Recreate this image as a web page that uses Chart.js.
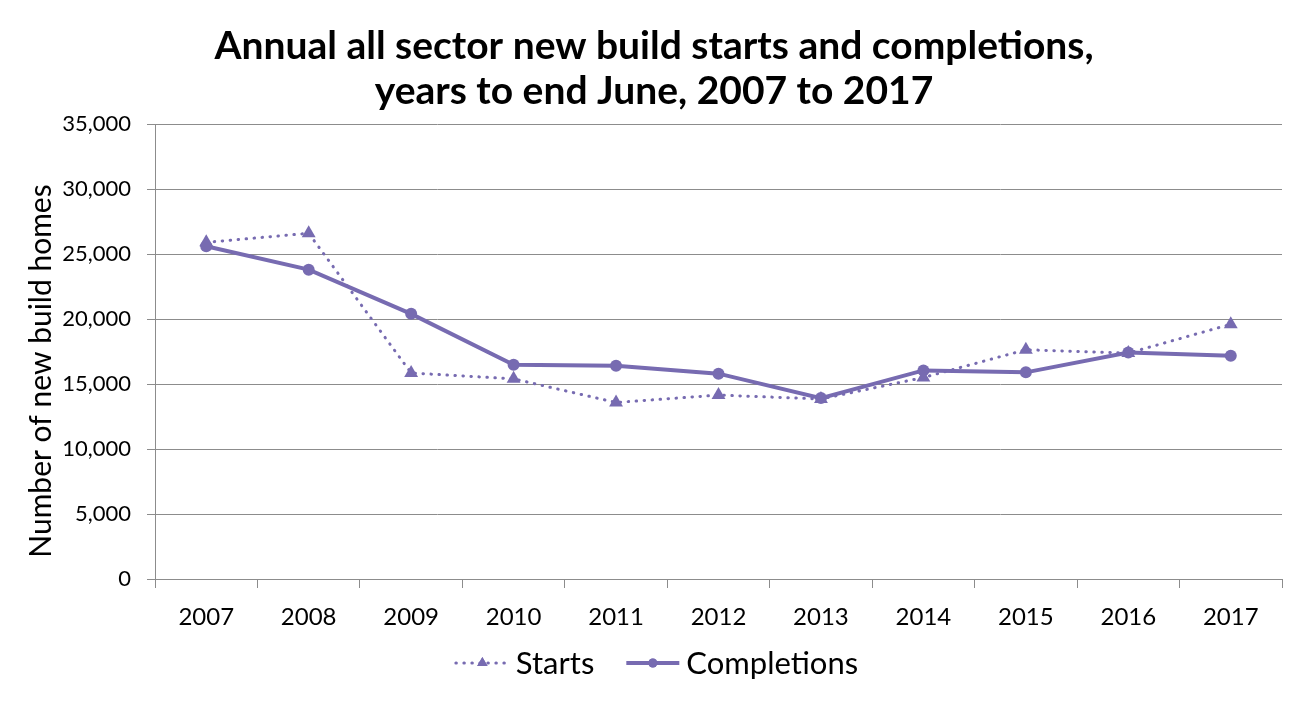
<!DOCTYPE html>
<html>
<head>
<meta charset="utf-8">
<script src="https://cdn.jsdelivr.net/npm/chart.js@4"></script>
<style>
  html, body { margin: 0; padding: 0; background: #fff; }
  #wrap { width: 1308px; height: 703px; }
</style>
</head>
<body>
<div id="wrap"><canvas id="myChart" width="1308" height="703"></canvas></div>
<script>
// Data
var years = ["2007", "2008", "2009", "2010", "2011", "2012", "2013", "2014", "2015", "2016", "2017"];
var starts = [25900, 26600, 15850, 15400, 13580, 14150, 13850, 15500, 17640, 17380, 19600];
var completions = [25600, 23800, 20400, 16480, 16400, 15800, 13920, 16050, 15900, 17430, 17180];
var titleLines = ["Annual all sector new build starts and completions,", "years to end June, 2007 to 2017"];
var yTitle = "Number of new build homes";

var purple = "#776bb1";
var grey = "#8c8c8c";
var font = "Lato, 'Open Sans', sans-serif";

// legend drawn under the axis: line sample + marker + name
var bottomLegend = {
  id: "bottomLegend",
  afterDraw(chart) {
    var ctx = chart.ctx;
    var sets = chart.data.datasets;
    var y = 663;
    ctx.save();
    ctx.font = "31px " + font;
    ctx.textBaseline = "middle";
    var sample = 53, gap = 7, between = 32;
    var total = 0;
    sets.forEach((ds, i) => {
      total += sample + gap + ctx.measureText(ds.label).width;
      if (i < sets.length - 1) total += between;
    });
    var x = 657 - total / 2;
    sets.forEach((ds) => {
      ctx.strokeStyle = ds.borderColor;
      ctx.fillStyle = ds.borderColor;
      ctx.lineWidth = ds.borderWidth;
      ctx.lineCap = ds.borderCapStyle || "butt";
      ctx.setLineDash(ds.borderDash || []);
      ctx.beginPath();
      ctx.moveTo(x, y);
      ctx.lineTo(x + sample, y);
      ctx.stroke();
      ctx.setLineDash([]);
      Chart.helpers.drawPoint(ctx, { pointStyle: ds.pointStyle, radius: ds.pointRadius * 0.75, borderWidth: 0 }, x + sample / 2, y);
      ctx.fill();
      ctx.fillStyle = "#000";
      ctx.fillText(ds.label, x + sample + gap, y + 1);
      x += sample + gap + ctx.measureText(ds.label).width + between;
    });
    ctx.restore();
  }
};

// y axis title, sits a bit lower than the axis middle like the original
var yAxisTitle = {
  id: "yAxisTitle",
  afterDraw(chart) {
    var ctx = chart.ctx;
    ctx.save();
    ctx.translate(41, 371);
    ctx.rotate(-Math.PI / 2);
    ctx.font = "30px " + font;
    ctx.fillStyle = "#000";
    ctx.textAlign = "center";
    ctx.textBaseline = "middle";
    ctx.fillText(yTitle, 0, 0);
    ctx.restore();
  }
};

new Chart("myChart", {
  type: "line",
  data: {
    labels: years,
    datasets: [
      {
        label: "Starts",
        data: starts,
        borderColor: purple,
        backgroundColor: purple,
        borderWidth: 3,
        borderDash: [0.5, 7.5],
        borderCapStyle: "round",
        pointStyle: "triangle",
        pointRadius: 8,
        pointBorderWidth: 0,
        tension: 0
      },
      {
        label: "Completions",
        data: completions,
        borderColor: purple,
        backgroundColor: purple,
        borderWidth: 4,
        pointStyle: "circle",
        pointRadius: 6,
        pointBorderWidth: 0,
        tension: 0
      }
    ]
  },
  options: {
    responsive: false,
    animation: false,
    layout: { padding: { left: 26, right: 26, top: 0, bottom: 0 } },
    plugins: {
      legend: { display: false },
      tooltip: { enabled: false },
      title: {
        display: true,
        text: titleLines,
        color: "#000",
        font: { family: font, size: 39, weight: "bold", lineHeight: 1.155 },
        padding: { top: 24, bottom: 10 }
      }
    },
    scales: {
      x: {
        offset: true,
        grid: { display: true, offset: true, drawOnChartArea: false, drawTicks: true, tickLength: 9, color: grey },
        border: { display: true, color: grey, width: 1 },
        ticks: { color: "#000", font: { family: font, size: 24 }, padding: 15, maxRotation: 0 },
        afterFit(scale) { scale.height = 124; }
      },
      y: {
        min: 0,
        max: 35000,
        grid: { color: grey, tickLength: 8, lineWidth: 1 },
        border: { display: true, color: grey, width: 1 },
        ticks: {
          stepSize: 5000,
          color: "#000",
          font: { family: font, size: 22 },
          padding: 16,
          callback: (v) => v.toLocaleString("en-US")
        },
        afterFit(scale) { scale.width = 129; }
      }
    }
  },
  plugins: [bottomLegend, yAxisTitle]
});
</script>
</body>
</html>
